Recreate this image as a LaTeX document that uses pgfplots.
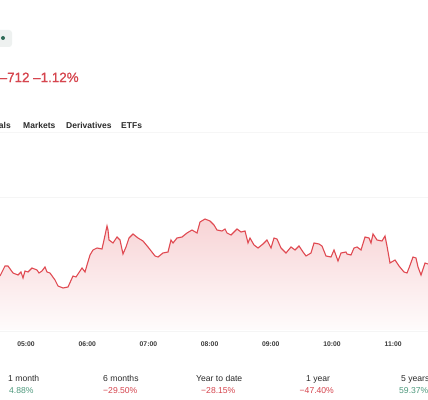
\documentclass[border=0pt]{standalone}
\usepackage{pgfplots}
\pgfplotsset{compat=1.18}
\usepackage{pgfplotstable}
\usepackage{fontspec}
\setmainfont{Liberation Sans}
\newfontfamily\medfont[FakeBold=0.9]{Liberation Sans}
\definecolor{lred}{HTML}{E04A52}
\definecolor{tred}{HTML}{D6454E}
\definecolor{tgreen}{HTML}{4F9A7E}
\definecolor{dtext}{HTML}{2B2B2B}
\definecolor{ttext}{HTML}{3A3A3A}
\pgfplotstableread{
x y
0 54
5 64
8 64
13 57
18 55
21 58
23 52
25 59
28 58
32 62
37 60
39 57
42 59
45 63
47 58
50 57
55 50
58 44
63 42
68 43
73 54
76 53
82 62
85 58
87 65
90 75
93 80
97 82
102 81
104 90
107 104
108 100
109 90
113 87
117 93
120 90
123 76
126 83
129 92
133 96
138 92
143 89
148 83
155 74
158 73
163 77
168 78
171 90
173 87
177 92
182 93
187 97
192 100
197 97
200 108
205 111
210 109
214 105
217 100
222 99
225 101
227 97
231 95
237 101
241 98
245 99
248 87
250 92
254 85
258 82
263 86
267 90
271 82
274 92
277 91
281 82
286 77
291 83
295 80
299 84
303 78
306 74
311 77
314 87
319 86
322 84
326 74
331 73
334 80
338 69
341 77
346 78
347 76
351 75
354 82
357 83
361 80
365 93
369 92
371 87
373 96
377 90
382 89
385 94
387 84
390 67
395 70
399 64
404 58
407 57
409 62
413 73
416 72
418 63
421 55
425 67
428 66
}\pricedata
\begin{document}
\begin{tikzpicture}[x=1bp,y=1bp]
\useasboundingbox (0,0) rectangle (428,400);
\fill[white] (0,0) rectangle (428,400);
% badge
\fill[color={rgb,255:red,238;green,241;blue,240}, rounded corners=3bp] (-8,353) rectangle (12,370);
\fill[color={rgb,255:red,47;green,107;blue,87}] (3,362) circle (2bp);
% header
\node[anchor=base west, inner sep=0, text=tred, font=\fontsize{13.4bp}{15bp}\medfont] at (-0.5,318) {–712 –1.12\%};
% tabs
\begin{scope}[every node/.style={anchor=base west, inner sep=0, text=dtext, font=\fontsize{8.5bp}{10bp}\selectfont\bfseries}]
\node[anchor=base east] at (11,272) {als};
\node at (23,272) {Markets};
\node at (66,272) {Derivatives};
\node at (121,272) {ETFs};
\end{scope}
\draw[gray!7, line width=1bp] (0,267) -- (428,267);
\begin{axis}[at={(0,69)}, anchor=south west, scale only axis,
  width=428bp, height=191bp,
  xmin=0, xmax=428, ymin=-1, ymax=190,
  axis line style={draw=none},
  ytick={-1,133}, yticklabels={},
  ymajorgrids, grid style={gray!8, line width=0.7bp},
  major tick length=0,
  xtick={26,87.2,148.4,209.6,270.8,332,393.2},
  xticklabels={05:00,06:00,07:00,08:00,09:00,10:00,11:00},
  xticklabel style={anchor=center, yshift=-13bp, text=ttext, font=\fontsize{6.8bp}{8bp}\selectfont\bfseries},
  clip=true]
\addplot[draw=none, top color=lred!24, bottom color=lred!2, forget plot] table[x=x,y=y] {\pricedata} \closedcycle;
\addplot[lred, line width=1.1bp] table[x=x,y=y] {\pricedata};
\end{axis}
% bottom stats
\begin{scope}[every node/.style={anchor=base west, inner sep=0, font=\fontsize{8.6bp}{10bp}\selectfont}]
\node[text=dtext] at (8,19) {1 month};
\node[text=tgreen] at (9,7) {4.88\%};
\node[text=dtext] at (103,19) {6 months};
\node[text=tred] at (103,7) {−29.50\%};
\node[text=dtext] at (196,19) {Year to date};
\node[text=tred] at (201,7) {−28.15\%};
\node[text=dtext] at (306,19) {1 year};
\node[text=tred] at (299.5,7) {−47.40\%};
\node[text=dtext] at (401,19) {5 years};
\node[text=tgreen] at (399,7) {59.37\%};
\end{scope}
\end{tikzpicture}
\end{document}
